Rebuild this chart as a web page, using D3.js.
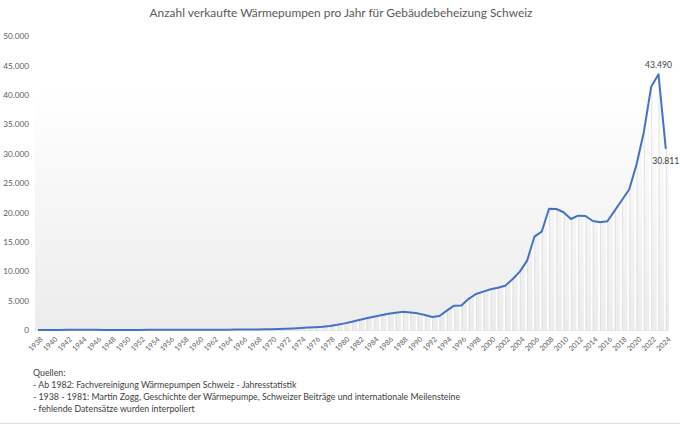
<!DOCTYPE html>
<meta charset="utf-8">
<style>
  body { margin: 0; background: #fff; }
  svg { font-family: Lato, "Open Sans", sans-serif; }
  .axis .domain { display: none; }
  .axis line { display: none; }
  .axis text { fill: #595959; }
</style>
<svg id="chart" width="680" height="425"></svg>
<script src="https://cdn.jsdelivr.net/npm/d3@7/dist/d3.min.js"></script>
<script>

var title = "Anzahl verkaufte Wärmepumpen pro Jahr für Gebäudebeheizung Schweiz";

var years = d3.range(1938, 2025);
var sales = [
  5, 10, 15, 20, 25, 30, 30, 30, 25, 20,            // 1938-1947
  20, 20, 20, 20, 20, 25, 25, 30, 30, 35,           // 1948-1957
  35, 40, 40, 45, 50, 55, 60, 70, 80, 90,           // 1958-1967
  100, 120, 140, 170, 210, 270, 340, 410, 480, 570, // 1968-1977
  690, 880, 1130, 1400, 1700, 2000, 2250, 2500, 2750, 2950, // 1978-1987
  3120, 2980, 2830, 2550, 2210, 2380, 3300, 4140, 4160, 5300, // 1988-1997
  6120, 6520, 6920, 7200, 7540, 8620, 9920, 11790, 15870, 16720, // 1998-2007
  20630, 20580, 20020, 18880, 19440, 19390, 18540, 18320, 18490, 20300, // 2008-2017
  22100, 23930, 28180, 33730, 41380, 43490, 30811   // 2018-2024
];
var yTicks = [0, 5000, 10000, 15000, 20000, 25000, 30000, 35000, 40000, 45000, 50000];
var xTicks = years.filter(function(d) { return (d - 1938) % 2 === 0; });
var labelled = [2023, 2024];

var sources = [
  "Quellen:",
  "- Ab 1982: Fachvereinigung Wärmepumpen Schweiz - Jahresstatistik",
  "- 1938 - 1981: Martin Zogg, Geschichte der Wärmepumpe, Schweizer Beiträge und internationale Meilensteine",
  "- fehlende Datensätze wurden interpoliert"
];

var data = years.map(function(y, i) { return {year: y, value: sales[i]}; });

var svg = d3.select("#chart");
var plot = {left: 35, right: 669, top: 36, bottom: 330};

var fmt = function(v) { return d3.format(",")(v).replace(/,/g, "."); };

var x = d3.scalePoint().domain(years).range([38, 665.8]);
var y = d3.scaleLinear().domain([0, 50000]).range([plot.bottom, plot.top]);

// plot area gradient
var grad = svg.append("defs").append("linearGradient")
    .attr("id", "bg").attr("x1", 0).attr("y1", 0).attr("x2", 0).attr("y2", 1);
grad.append("stop").attr("offset", "0%").attr("stop-color", "#ffffff");
grad.append("stop").attr("offset", "18%").attr("stop-color", "#ffffff");
grad.append("stop").attr("offset", "100%").attr("stop-color", "#ececec");

svg.append("rect")
    .attr("x", plot.left).attr("y", plot.top)
    .attr("width", plot.right - plot.left).attr("height", plot.bottom - plot.top)
    .attr("fill", "url(#bg)");

// title
svg.append("text")
    .attr("x", 341).attr("y", 17)
    .attr("text-anchor", "middle")
    .attr("font-size", 11.9)
    .attr("fill", "#595959")
    .text(title);

// drop lines
var drops = svg.append("g");
drops.selectAll("line.w")
  .data(data)
  .enter().append("line")
    .attr("class", "w")
    .attr("x1", function(d) { return x(d.year) - 1; })
    .attr("x2", function(d) { return x(d.year) - 1; })
    .attr("y1", function(d) { return y(d.value); })
    .attr("y2", plot.bottom)
    .attr("stroke", "#ffffff")
    .attr("stroke-width", 1.6);
drops.selectAll("line.g")
  .data(data)
  .enter().append("line")
    .attr("class", "g")
    .attr("x1", function(d) { return x(d.year) + 0.5; })
    .attr("x2", function(d) { return x(d.year) + 0.5; })
    .attr("y1", function(d) { return y(d.value); })
    .attr("y2", plot.bottom)
    .attr("stroke", "#dcdcdc")
    .attr("stroke-width", 0.8);

// baseline
svg.append("line")
    .attr("x1", plot.left).attr("x2", plot.right)
    .attr("y1", plot.bottom + 0.5).attr("y2", plot.bottom + 0.5)
    .attr("stroke", "#e4e4e4");

// y axis
svg.append("g")
    .attr("class", "axis")
    .attr("transform", "translate(29,0)")
    .call(d3.axisLeft(y).tickValues(yTicks).tickSize(0).tickPadding(0).tickFormat(fmt))
    .selectAll("text")
    .attr("font-size", 8.2)
    .attr("font-family", "Lato, sans-serif");

// x axis
svg.append("g")
    .attr("class", "axis")
    .attr("transform", "translate(0," + (plot.bottom + 4) + ")")
    .call(d3.axisBottom(x).tickValues(xTicks).tickSize(0).tickPadding(0))
    .selectAll("text")
    .attr("font-size", 7.2)
    .attr("font-family", "Lato, sans-serif")
    .attr("text-anchor", "end")
    .attr("dy", "0.35em")
    .attr("transform", "translate(3,4) rotate(-45)");

// line
svg.append("path")
    .datum(data)
    .attr("fill", "none")
    .attr("stroke", "#4472c4")
    .attr("stroke-width", 2)
    .attr("stroke-linejoin", "round")
    .attr("d", d3.line()
        .x(function(d) { return x(d.year); })
        .y(function(d) { return y(d.value); }));

// data labels
svg.selectAll("text.lbl")
  .data(data.filter(function(d) { return labelled.indexOf(d.year) >= 0; }))
  .enter().append("text")
    .attr("class", "lbl")
    .attr("x", function(d) { return x(d.year); })
    .attr("y", function(d, i) { return i === 0 ? y(d.value) - 6 : y(d.value) + 15; })
    .attr("text-anchor", "middle")
    .attr("font-size", 8.6)
    .attr("fill", "#404040")
    .text(function(d) { return fmt(d.value); });

// sources
svg.append("g")
    .selectAll("text")
    .data(sources)
    .enter().append("text")
    .attr("x", 33)
    .attr("y", function(d, i) { return 376 + i * 12; })
    .attr("font-size", 8.8)
    .attr("fill", "#404040")
    .text(function(d) { return d; });

// bottom border
svg.append("line")
    .attr("x1", 0).attr("x2", 680)
    .attr("y1", 423.5).attr("y2", 423.5)
    .attr("stroke", "#e0e0e0");

</script>
